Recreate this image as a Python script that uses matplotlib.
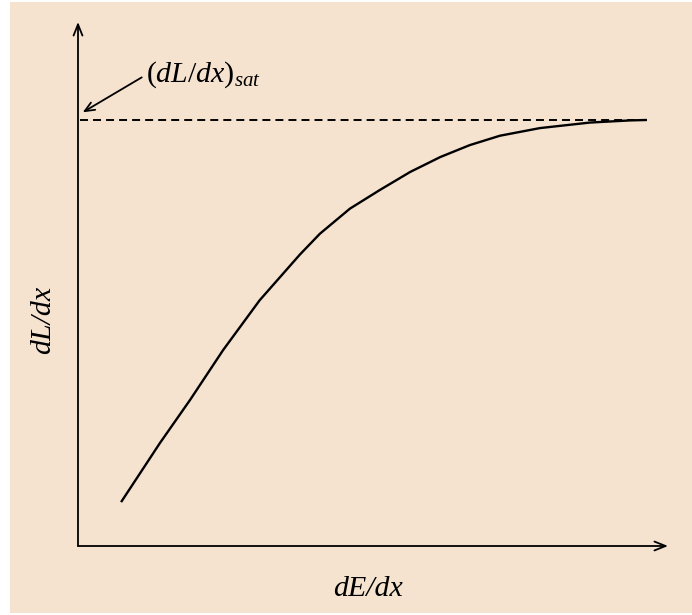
import matplotlib
matplotlib.use('Agg')
import matplotlib.pyplot as plt
from matplotlib.patches import Rectangle

plt.rcParams['mathtext.fontset'] = 'custom'
plt.rcParams['mathtext.rm'] = 'Liberation Serif'
plt.rcParams['mathtext.it'] = 'Liberation Serif:italic'

# light yield curve, dL/dx against dE/dx (saturation level = 1)
dedx = [0.73, 1.39, 1.90, 2.46, 3.08, 3.76, 4.10, 4.61, 5.12, 5.63,
        6.14, 6.64, 7.15, 7.83, 8.68, 9.36, 9.64]
dldx = [0.103, 0.242, 0.343, 0.460, 0.577, 0.684, 0.733, 0.792, 0.836, 0.878,
        0.913, 0.941, 0.963, 0.981, 0.994, 0.999, 1.0]
sat_level = 1.0
sat_range = [0.03, 9.64]

paper = '#F5E3D0'

fig = plt.figure(figsize=(6.92, 6.15), dpi=100, facecolor='white')
fig.patches.append(Rectangle((10 / 692, 2 / 615), 682 / 692, 611 / 615,
                             transform=fig.transFigure, facecolor=paper,
                             edgecolor='none', zorder=-10))

ax = fig.add_axes([78 / 692, 69 / 615, 590 / 692, 524 / 615])
ax.set_xlim(0, 10)
ax.set_ylim(0, 1.23)
ax.patch.set_alpha(0)
for s in ax.spines.values():
    s.set_visible(False)
ax.set_xticks([])
ax.set_yticks([])

# axes drawn as arrows
arr = dict(arrowstyle='->,head_length=0.8,head_width=0.32', color='black',
           lw=1.3, shrinkA=0, shrinkB=0)
ax.annotate('', xy=(10, 0), xytext=(0, 0), arrowprops=arr, annotation_clip=False)
ax.annotate('', xy=(0, 1.23), xytext=(0, 0), arrowprops=arr, annotation_clip=False)

ax.plot(dedx, dldx, color='black', lw=1.7, solid_joinstyle='round',
        solid_capstyle='butt')
ax.plot(sat_range, [sat_level, sat_level], color='black', lw=1.4,
        linestyle=(0, (4.1, 2.6)))

# saturation label with pointer
ax.annotate('', xy=(0.08, sat_level + 0.018), xytext=(1.08, sat_level + 0.1),
            arrowprops=dict(arrowstyle='->,head_length=0.7,head_width=0.3',
                            color='black', lw=1.3, shrinkA=0, shrinkB=0),
            annotation_clip=False)
ax.text(1.15, sat_level + 0.089, r'$(dL/dx)_{sat}$', fontsize=21.5,
        ha='left', va='baseline')

lab = dict(family='Liberation Serif', style='italic', fontsize=21.5)
ax.text(4.92, -0.1, 'dE/dx', ha='center', va='center', **lab)
ax.text(-0.59, 0.53, 'dL/dx', ha='center', va='center', rotation=90, **lab)

fig.savefig('out.png', dpi=100, facecolor=fig.get_facecolor())
